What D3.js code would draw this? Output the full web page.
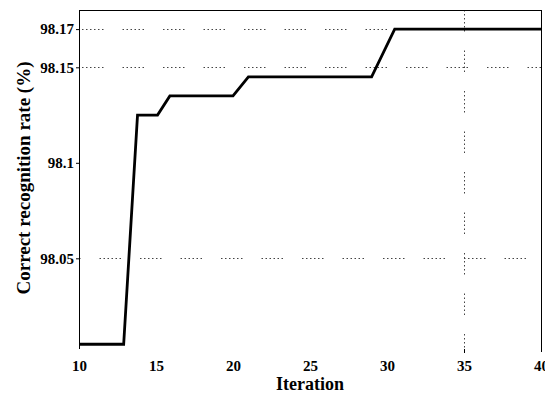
<!DOCTYPE html>
<html>
<head>
<meta charset="utf-8">
<script src="https://cdn.jsdelivr.net/npm/d3@7"></script>
<style>
  html, body { margin: 0; padding: 0; background: #fff; }
  svg { display: block; }
  text { font-family: "Liberation Serif", "Times New Roman", serif; font-weight: bold; fill: #000; }
</style>
</head>
<body>
<svg id="chart" width="545" height="396"></svg>
<script>
// Correct recognition rate versus iteration
const iterations = [10, 12.9, 13.8, 15.1, 15.9, 20, 21, 29, 30.5, 40];
const rates = [98.005, 98.005, 98.125, 98.125, 98.135, 98.135, 98.145, 98.145, 98.17, 98.17];

const xTicks = [10, 15, 20, 25, 30, 35, 40];
const yTicks = [98.05, 98.1, 98.15, 98.17];
const yTickLabels = ["98.05", "98.1", "98.15", "98.17"];
const yGridValues = [98.05, 98.15, 98.17];
const xGridValues = [35];

const xTitle = "Iteration";
const yTitle = "Correct recognition rate (%)";

const svg = d3.select("#chart");
const plotLeft = 79, plotRight = 541, plotTop = 10, plotBottom = 350;

const x = d3.scaleLinear().domain([10, 40]).range([plotLeft, plotRight]);
const y = d3.scaleLinear().domain([98.002, 98.18]).range([plotBottom, plotTop]);

// dotted grid: short runs of dots separated by gaps
const dotPattern = "1.5,2.5,1.5,2.5,1.5,2.5,1.5,2.5,1.5,2.5,1.5,19";

svg.append("g")
  .selectAll("line")
  .data(yGridValues)
  .join("line")
  .attr("x1", plotLeft).attr("x2", plotRight)
  .attr("y1", d => Math.round(y(d)) + 0.5)
  .attr("y2", d => Math.round(y(d)) + 0.5)
  .attr("stroke", "#444")
  .attr("stroke-width", 1)
  .attr("stroke-dasharray", dotPattern)
  .attr("stroke-dashoffset", (d, i) => i === 0 ? 20 : -3);

svg.append("g")
  .selectAll("line")
  .data(xGridValues)
  .join("line")
  .attr("x1", d => Math.round(x(d)) + 0.5)
  .attr("x2", d => Math.round(x(d)) + 0.5)
  .attr("y1", plotTop).attr("y2", plotBottom)
  .attr("stroke", "#444")
  .attr("stroke-width", 1)
  .attr("stroke-dasharray", dotPattern);

// short solid tick below the gridline
svg.append("g")
  .selectAll("line")
  .data(xGridValues)
  .join("line")
  .attr("x1", d => Math.round(x(d)) + 0.5)
  .attr("x2", d => Math.round(x(d)) + 0.5)
  .attr("y1", plotBottom - 1).attr("y2", plotBottom + 3)
  .attr("stroke", "#000");

// frame: left, top and right edges
const frame = svg.append("g").attr("stroke", "#000").attr("stroke-width", 1);
frame.append("line").attr("x1", plotLeft + 0.5).attr("x2", plotLeft + 0.5).attr("y1", plotTop).attr("y2", plotBottom - 1);
frame.append("line").attr("x1", plotLeft).attr("x2", plotRight + 1).attr("y1", plotTop + 0.5).attr("y2", plotTop + 0.5);
frame.append("line").attr("x1", plotRight + 0.5).attr("x2", plotRight + 0.5).attr("y1", plotTop).attr("y2", plotBottom + 2);

// y axis labels
const yAxis = d3.axisLeft(y)
  .tickValues(yTicks)
  .tickFormat((d, i) => yTickLabels[i])
  .tickSize(3)
  .tickPadding(2);
const gy = svg.append("g").attr("transform", `translate(${plotLeft},0)`).call(yAxis);
gy.select(".domain").remove();
gy.selectAll("text").style("font-size", "15px").style("font-family", "Liberation Serif").style("font-weight", "bold").attr("fill", "#000");

// x axis labels
const xAxis = d3.axisBottom(x).tickValues(xTicks).tickSize(0).tickPadding(10);
const gx = svg.append("g").attr("transform", `translate(0,${plotBottom})`).call(xAxis);
gx.select(".domain").remove();
gx.selectAll("text").style("font-size", "15px").style("font-family", "Liberation Serif").style("font-weight", "bold").attr("fill", "#000");

// data line
const line = d3.line().x((d, i) => x(iterations[i])).y(d => y(d));
svg.append("path")
  .datum(rates)
  .attr("d", line)
  .attr("fill", "none")
  .attr("stroke", "#000")
  .attr("stroke-width", 2.8)
  .attr("stroke-linejoin", "miter");

// axis titles
svg.append("text")
  .attr("x", (plotLeft + plotRight) / 2)
  .attr("y", 390)
  .attr("text-anchor", "middle")
  .style("font-size", "18px")
  .text(xTitle);

svg.append("text")
  .attr("transform", "translate(30,178) rotate(-90)")
  .attr("text-anchor", "middle")
  .style("font-size", "19px")
  .text(yTitle);
</script>
</body>
</html>
